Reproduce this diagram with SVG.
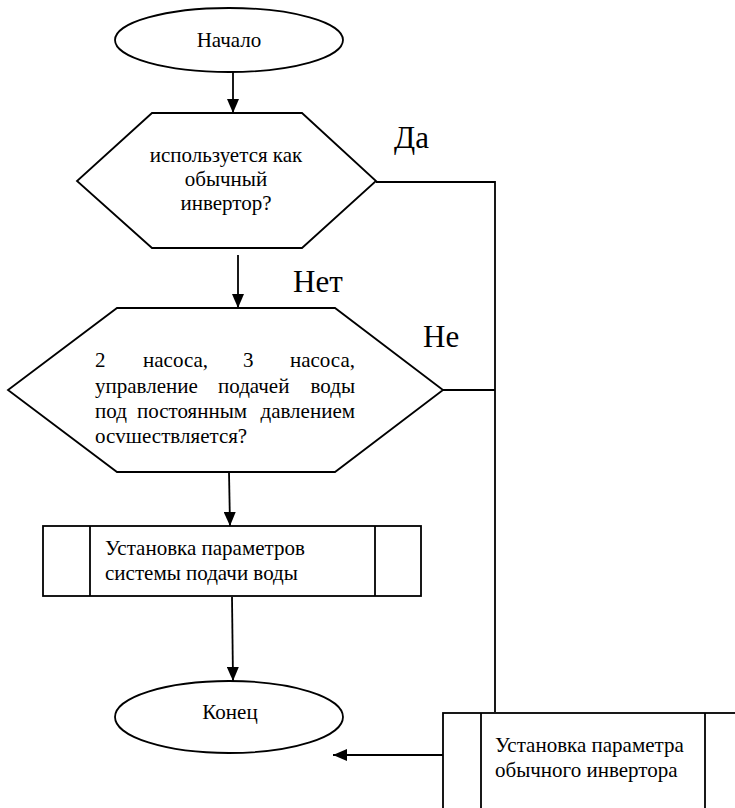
<svg xmlns="http://www.w3.org/2000/svg" width="735" height="808" viewBox="0 0 735 808">
<style>
.s{fill:#fff;stroke:#000;stroke-width:1.8}
.l{fill:none;stroke:#000;stroke-width:1.8}
text{font-family:"Liberation Serif","DejaVu Serif","Times New Roman",serif;fill:#000}
.t{font-size:21px}
.c{text-anchor:middle}
.b{font-size:31px}
</style>
<defs>
<marker id="ah" markerUnits="userSpaceOnUse" markerWidth="14" markerHeight="12" refX="14" refY="6" orient="auto">
<path d="M0,0 L14,6 L0,12 Z" fill="#000"/>
</marker>
</defs>
<rect width="735" height="808" fill="#fff"/>
<g id="connectors">
<line class="l" x1="233" y1="72" x2="233" y2="113" marker-end="url(#ah)"/>
<line class="l" x1="238" y1="255" x2="238" y2="308" marker-end="url(#ah)"/>
<line class="l" x1="229" y1="472" x2="230" y2="526" marker-end="url(#ah)"/>
<line class="l" x1="232" y1="597" x2="233" y2="681" marker-end="url(#ah)"/>
<polyline class="l" points="376,182 495,182 495,712"/>
<line class="l" x1="443" y1="390" x2="495" y2="390"/>
<line class="l" x1="443" y1="755" x2="333" y2="755" marker-end="url(#ah)"/>
<text class="b" x="394" y="148">Да</text>
<text class="b" x="293" y="292">Нет</text>
<text class="b" x="423" y="347">Не</text>
</g>
<g id="start">
<ellipse class="s" cx="229" cy="40" rx="114" ry="32"/>
<text class="t c" x="229" y="47">Начало</text>
</g>
<g id="decision1">
<polygon class="s" points="152,113 302,113 376,181 302,248 152,248 77,181"/>
<text class="t c" x="226" y="162">используется как</text>
<text class="t c" x="226" y="186">обычный</text>
<text class="t c" x="226" y="210">инвертор?</text>
</g>
<g id="decision2">
<polygon class="s" points="117,308 335,308 443,390 335,472 117,472 8,390"/>
<text class="t" y="367"><tspan x="95">2</tspan><tspan x="143">насоса,</tspan><tspan x="243">3</tspan><tspan x="355" text-anchor="end">насоса,</tspan></text>
<text class="t" y="393"><tspan x="95">управление</tspan><tspan x="218">подачей</tspan><tspan x="355" text-anchor="end">воды</tspan></text>
<text class="t" y="418"><tspan x="95">под</tspan><tspan x="137">постоянным</tspan><tspan x="355" text-anchor="end">давлением</tspan></text>
<text class="t" x="95" y="443">осvшествляется?</text>
</g>
<g id="process1">
<rect class="s" x="43" y="526" width="378" height="70"/>
<line class="l" x1="90" y1="526" x2="90" y2="596"/>
<line class="l" x1="375" y1="526" x2="375" y2="596"/>
<text class="t" x="105" y="555">Установка параметров</text>
<text class="t" x="105" y="580">системы подачи  воды</text>
</g>
<g id="end">
<ellipse class="s" cx="229" cy="717" rx="114" ry="36"/>
<text class="t c" x="230" y="719">Конец</text>
</g>
<g id="process2">
<rect class="s" x="443" y="713" width="310" height="120"/>
<line class="l" x1="481" y1="713" x2="481" y2="808"/>
<line class="l" x1="705" y1="713" x2="705" y2="808"/>
<text class="t" x="495" y="752">Установка параметра</text>
<text class="t" x="495" y="777">обычного инвертора</text>
</g>
</svg>
